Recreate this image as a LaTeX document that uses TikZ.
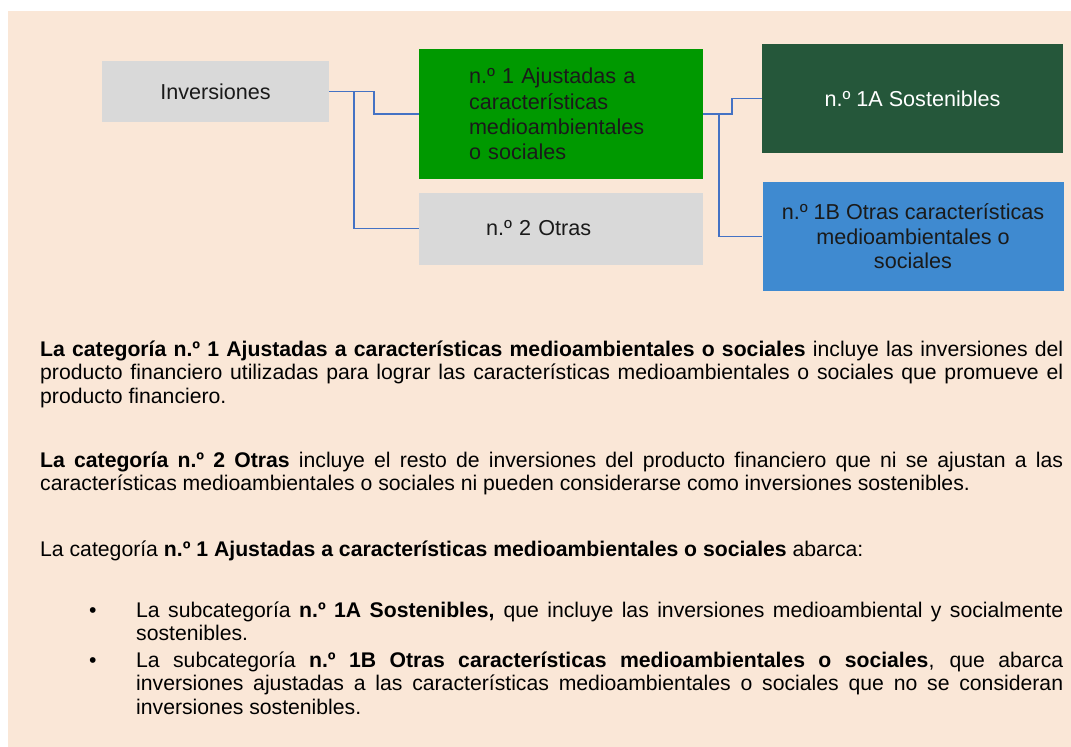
\documentclass[tikz,border=0pt]{standalone}
\usepackage{fontspec}
\setmainfont{Liberation Sans}
\usepackage{tikz}
\usetikzlibrary{math}
\usetikzlibrary{positioning}
\definecolor{fondo}{HTML}{FAE7D7}
\definecolor{gris}{HTML}{D9D9D9}
\definecolor{verde}{HTML}{009900}
\definecolor{verdeosc}{HTML}{25573A}
\definecolor{azul}{HTML}{3F8AD0}
\definecolor{linea}{HTML}{4472C4}
\definecolor{tinta}{HTML}{1A1A1A}
\hyphenpenalty=10000
\exhyphenpenalty=10000

\begin{document}
\begin{tikzpicture}[x=1pt, y=-1pt,
  caja/.style={inner sep=0pt, text=tinta, font=\fontsize{21.6}{25.3}\selectfont},
  conector/.style={draw=linea, line width=1.3pt},
  parrafo/.style={anchor=base west, inner sep=0pt, align=justify,
    font=\fontsize{21.2}{23.5}\selectfont},
  vineta/.style={anchor=base west, inner sep=0pt, font=\fontsize{21.2}{23.5}\selectfont}]
  \tikzmath{
    \bw = 284;
    \cw = 301;
  }
  \useasboundingbox (0, 0) rectangle (1071, 747);
  \fill [fondo] (8, 11) rectangle (1071, 747);

  % boxes
  \node [caja, fill=gris, minimum width=227, minimum height=61] (inv) at (215.5, 91.5) {Inversiones};
  \node [caja, fill=verde, minimum width=\bw, minimum height=130, text width=184, align=left] (n1) at (561, 114)
    {n.º 1 Ajustadas a\\características\\medioambientales\\o sociales};
  \node [caja, fill=gris, minimum width=\bw, minimum height=72, text width=150, align=left] (n2) at (561, 228.5) {n.º 2 Otras};
  \node [caja, fill=verdeosc, text=white, minimum width=\cw, minimum height=109] (s1a) at (912.5, 98.5) {n.º 1A Sostenibles};
  \node [caja, fill=azul, minimum width=\cw, minimum height=109, align=center, font=\fontsize{21.6}{24.5}\selectfont] (s1b) at (913, 236.5)
    {n.º 1B Otras características\\medioambientales o\\sociales};

  % connectors
  \coordinate (c1) at (374, 91.5);
  \coordinate (c2) at (354, 91.5);
  \coordinate (c3) at (732, 114);
  \coordinate (c4) at (719, 114);
  \draw [conector] (inv.east) -- (c1) |- (n1.west);
  \draw [conector] (c2) |- (n2.west);
  \draw [conector] (n1.east) -- (c3) |- (s1a.west);
  \draw [conector] (c4) |- (s1b.west);

  % text
  \node [parrafo, text width=1023] (p1) at (40, 356) {\textbf{La categoría n.º 1 Ajustadas a características medioambientales o sociales} incluye las inversiones del producto financiero utilizadas para lograr las características medioambientales o sociales que promueve el producto financiero.};
  \node [parrafo, text width=1023] (p2) at (40, 467) {\textbf{La categoría n.º 2 Otras} incluye el resto de inversiones del producto financiero que ni se ajustan a las características medioambientales o sociales ni pueden considerarse como inversiones sostenibles.};
  \node [parrafo, text width=1023] (p3) at (40, 556) {La categoría \textbf{n.º 1 Ajustadas a características medioambientales o sociales} abarca:};
  \foreach \yv/\nom in {617/v1, 667/v2} {
    \node [vineta] (\nom) at (89, \yv) {•};
  }
  \node [parrafo, text width=927] (b1) at (136, 617) {La subcategoría \textbf{n.º 1A Sostenibles,} que incluye las inversiones medioambiental y socialmente sostenibles.};
  \node [parrafo, text width=927] (b2) at (136, 667) {La subcategoría \textbf{n.º 1B Otras características medioambientales o sociales}, que abarca inversiones ajustadas a las características medioambientales o sociales que no se consideran inversiones sostenibles.};
\end{tikzpicture}
\end{document}
